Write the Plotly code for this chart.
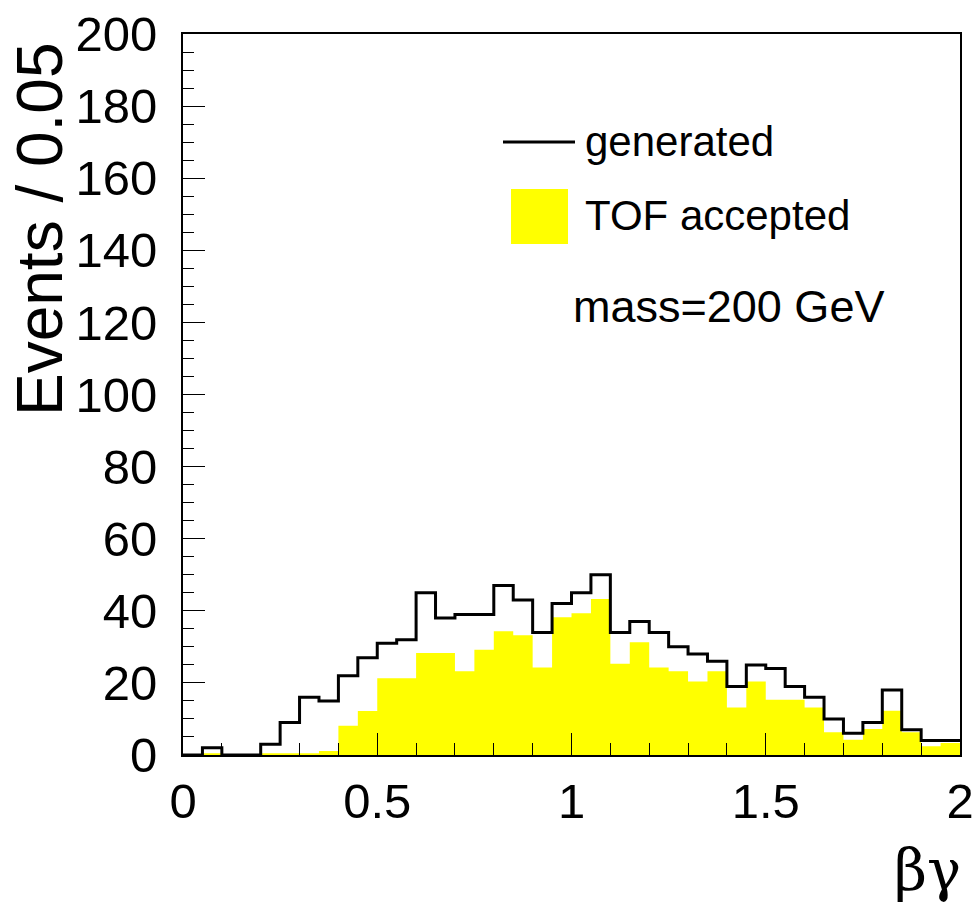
import plotly.graph_objects as go

# Histogram bin edges (beta*gamma), bin width 0.05
bin_edges = [0.00, 0.05, 0.10, 0.15, 0.20, 0.25, 0.30, 0.35, 0.40, 0.45,
             0.50, 0.55, 0.60, 0.65, 0.70, 0.75, 0.80, 0.85, 0.90, 0.95,
             1.00, 1.05, 1.10, 1.15, 1.20, 1.25, 1.30, 1.35, 1.40, 1.45,
             1.50, 1.55, 1.60, 1.65, 1.70, 1.75, 1.80, 1.85, 1.90, 1.95, 2.00]

generated = [0, 2, 0, 0, 3, 9, 16, 15, 22, 27,
             31, 32, 45, 38, 39, 39, 47, 43, 34, 42,
             45, 50, 34, 37, 34, 30, 28, 26, 19, 25,
             24, 19, 16, 10, 6, 9, 18, 7, 4, 4]

tof_accepted = [0, 0.5, 0, 0, 0.5, 0.5, 0.5, 1.1, 8.1, 12.2,
                21.3, 21.3, 28.3, 28.3, 23.2, 29.2, 34.3, 33.2, 24.3, 38.2,
                39.3, 43.3, 25.3, 31.3, 24.3, 23.2, 20.4, 23.2, 13.2, 20.4,
                15.3, 15.3, 13.2, 6.3, 4.25, 7.2, 12.3, 6.3, 2.4, 3.3]

y_ticks = [0, 20, 40, 60, 80, 100, 120, 140, 160, 180, 200]
x_ticks = [0, 0.5, 1, 1.5, 2]
x_tick_labels = ["0", "0.5", "1", "1.5", "2"]

FONT = "Liberation Sans, Arial, sans-serif"

fig = go.Figure()
# Filled histogram (TOF accepted) as a step area
fig.add_trace(go.Scatter(
    x=bin_edges, y=tof_accepted + [tof_accepted[-1]],
    mode="lines", line=dict(color="rgba(0,0,0,0)", width=0, shape="hv"),
    fill="tozeroy", fillcolor="#ffff00",
    name="TOF accepted",
))
# Outline histogram (generated)
fig.add_trace(go.Scatter(
    x=bin_edges, y=generated + [generated[-1]],
    mode="lines", line=dict(color="black", width=3, shape="hv"),
    name="generated", cliponaxis=False,
))

L, R, T, B = 183, 19, 34, 152
W, H = 979, 907
pw, ph = W - L - R, H - T - B


def px(x):
    return (x - L) / pw


def py(y):
    return (H - B - y) / ph


fig.update_layout(
    width=W, height=H,
    margin=dict(l=L, r=R, t=T, b=B, autoexpand=False),
    paper_bgcolor="white", plot_bgcolor="white",
    showlegend=False,
    font=dict(family=FONT, color="black"),
    xaxis=dict(
        range=[0, 2], showgrid=False, zeroline=False, automargin=False,
        showline=True, linecolor="black", linewidth=2, mirror=True,
        ticks="inside", ticklen=22, tickwidth=1, tickcolor="black",
        tickvals=x_ticks, ticktext=x_tick_labels,
        tickfont=dict(family=FONT, size=49, color="black"),
        minor=dict(ticks="inside", ticklen=12, tickwidth=1, tickcolor="black", dtick=0.1),
        ticklabelstandoff=2,
    ),
    yaxis=dict(
        range=[0, 200], showgrid=False, zeroline=False, automargin=False,
        showline=True, linecolor="black", linewidth=2, mirror=True,
        ticks="inside", ticklen=22, tickwidth=1, tickcolor="black",
        tickvals=y_ticks,
        tickfont=dict(family=FONT, size=49, color="black"),
        minor=dict(ticks="inside", ticklen=11, tickwidth=1, tickcolor="black", dtick=5),
        ticklabelstandoff=14,
    ),
)

# Axis titles (ROOT-style, aligned to the end of the axes)
fig.add_annotation(
    xref="paper", yref="paper", x=px(40), y=py(229),
    text="Events / 0.05", textangle=-90, showarrow=False,
    xanchor="center", yanchor="middle",
    font=dict(family=FONT, size=64, color="black"),
)
fig.add_annotation(
    xref="paper", yref="paper", x=px(963), y=py(870),
    text="βγ", showarrow=False, xanchor="right", yanchor="middle",
    font=dict(family="DejaVu Serif, Liberation Serif, serif", size=57, color="black"),
)

# Legend drawn ROOT-style
fig.add_shape(type="line", xref="paper", yref="paper",
              x0=px(503), x1=px(575), y0=py(142), y1=py(142),
              line=dict(color="black", width=3))
fig.add_shape(type="rect", xref="paper", yref="paper",
              x0=px(511), x1=px(568), y0=py(244), y1=py(189),
              fillcolor="#ffff00", line=dict(width=0))
fig.add_annotation(xref="paper", yref="paper", x=px(583), y=py(141),
                   text="generated", showarrow=False, xanchor="left", yanchor="middle",
                   font=dict(family=FONT, size=42, color="black"))
fig.add_annotation(xref="paper", yref="paper", x=px(583), y=py(215),
                   text="TOF accepted", showarrow=False, xanchor="left", yanchor="middle",
                   font=dict(family=FONT, size=42, color="black"))
fig.add_annotation(xref="paper", yref="paper", x=px(571), y=py(306),
                   text="mass=200 GeV", showarrow=False, xanchor="left", yanchor="middle",
                   font=dict(family=FONT, size=45, color="black"))

fig.write_html(
    "out.html",
    config={"displayModeBar": False},
    post_script=(
        "document.body.style.margin='0';"
        "document.body.style.overflow='hidden';"
        "document.documentElement.style.overflow='hidden';"
    ),
)
